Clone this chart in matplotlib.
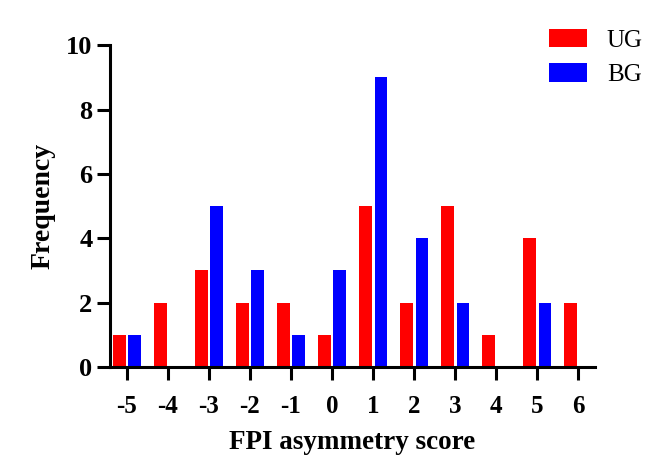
import matplotlib
matplotlib.use("Agg")
import matplotlib.pyplot as plt
import numpy as np

scores = [-5, -4, -3, -2, -1, 0, 1, 2, 3, 4, 5, 6]
ug_counts = [1, 2, 3, 2, 2, 1, 5, 2, 5, 1, 4, 2]
bg_counts = [1, 0, 5, 3, 1, 3, 9, 4, 2, 0, 2, 0]

plt.rcParams["font.family"] = ["Liberation Serif", "DejaVu Serif"]
plt.rcParams["font.weight"] = "bold"

fig = plt.figure(figsize=(6.69, 4.76), dpi=100)
ax = fig.add_axes([0.1644, 0.229, 0.7246, 0.676])

x = np.array(scores)
width = 0.3
ax.bar(x - 0.18, ug_counts, width, color="#ff0000", label="UG")
ax.bar(x + 0.19, bg_counts, width, color="#0000ff", label="BG")

ax.set_xlim(-5.41, 6.41)
ax.set_ylim(0, 10)
ax.set_xticks(scores)
ax.set_xticklabels([str(s) for s in scores])
ax.set_yticks(range(0, 11, 2))

for side in ["top", "right"]:
    ax.spines[side].set_visible(False)
for side in ["left", "bottom"]:
    ax.spines[side].set_linewidth(2.2)

ax.tick_params(axis="x", length=9.5, width=2.2, labelsize=18, pad=11)
ax.tick_params(axis="y", length=9.5, width=2.2, labelsize=19, pad=3)
for lab in ax.get_xticklabels() + ax.get_yticklabels():
    lab.set_fontweight("bold")

ax.set_xlabel("FPI asymmetry score", fontsize=19.5, fontweight="bold", labelpad=8)
ax.set_ylabel("Frequency", fontsize=20, fontweight="bold", labelpad=8)

leg = ax.legend(loc="upper left", bbox_to_anchor=(0.86, 1.12), frameon=False,
                fontsize=18, handlelength=1.5, handleheight=0.75,
                handletextpad=0.8, labelspacing=0.45)
for t in leg.get_texts():
    t.set_fontweight("normal")

fig.savefig("out.png", dpi=100)
